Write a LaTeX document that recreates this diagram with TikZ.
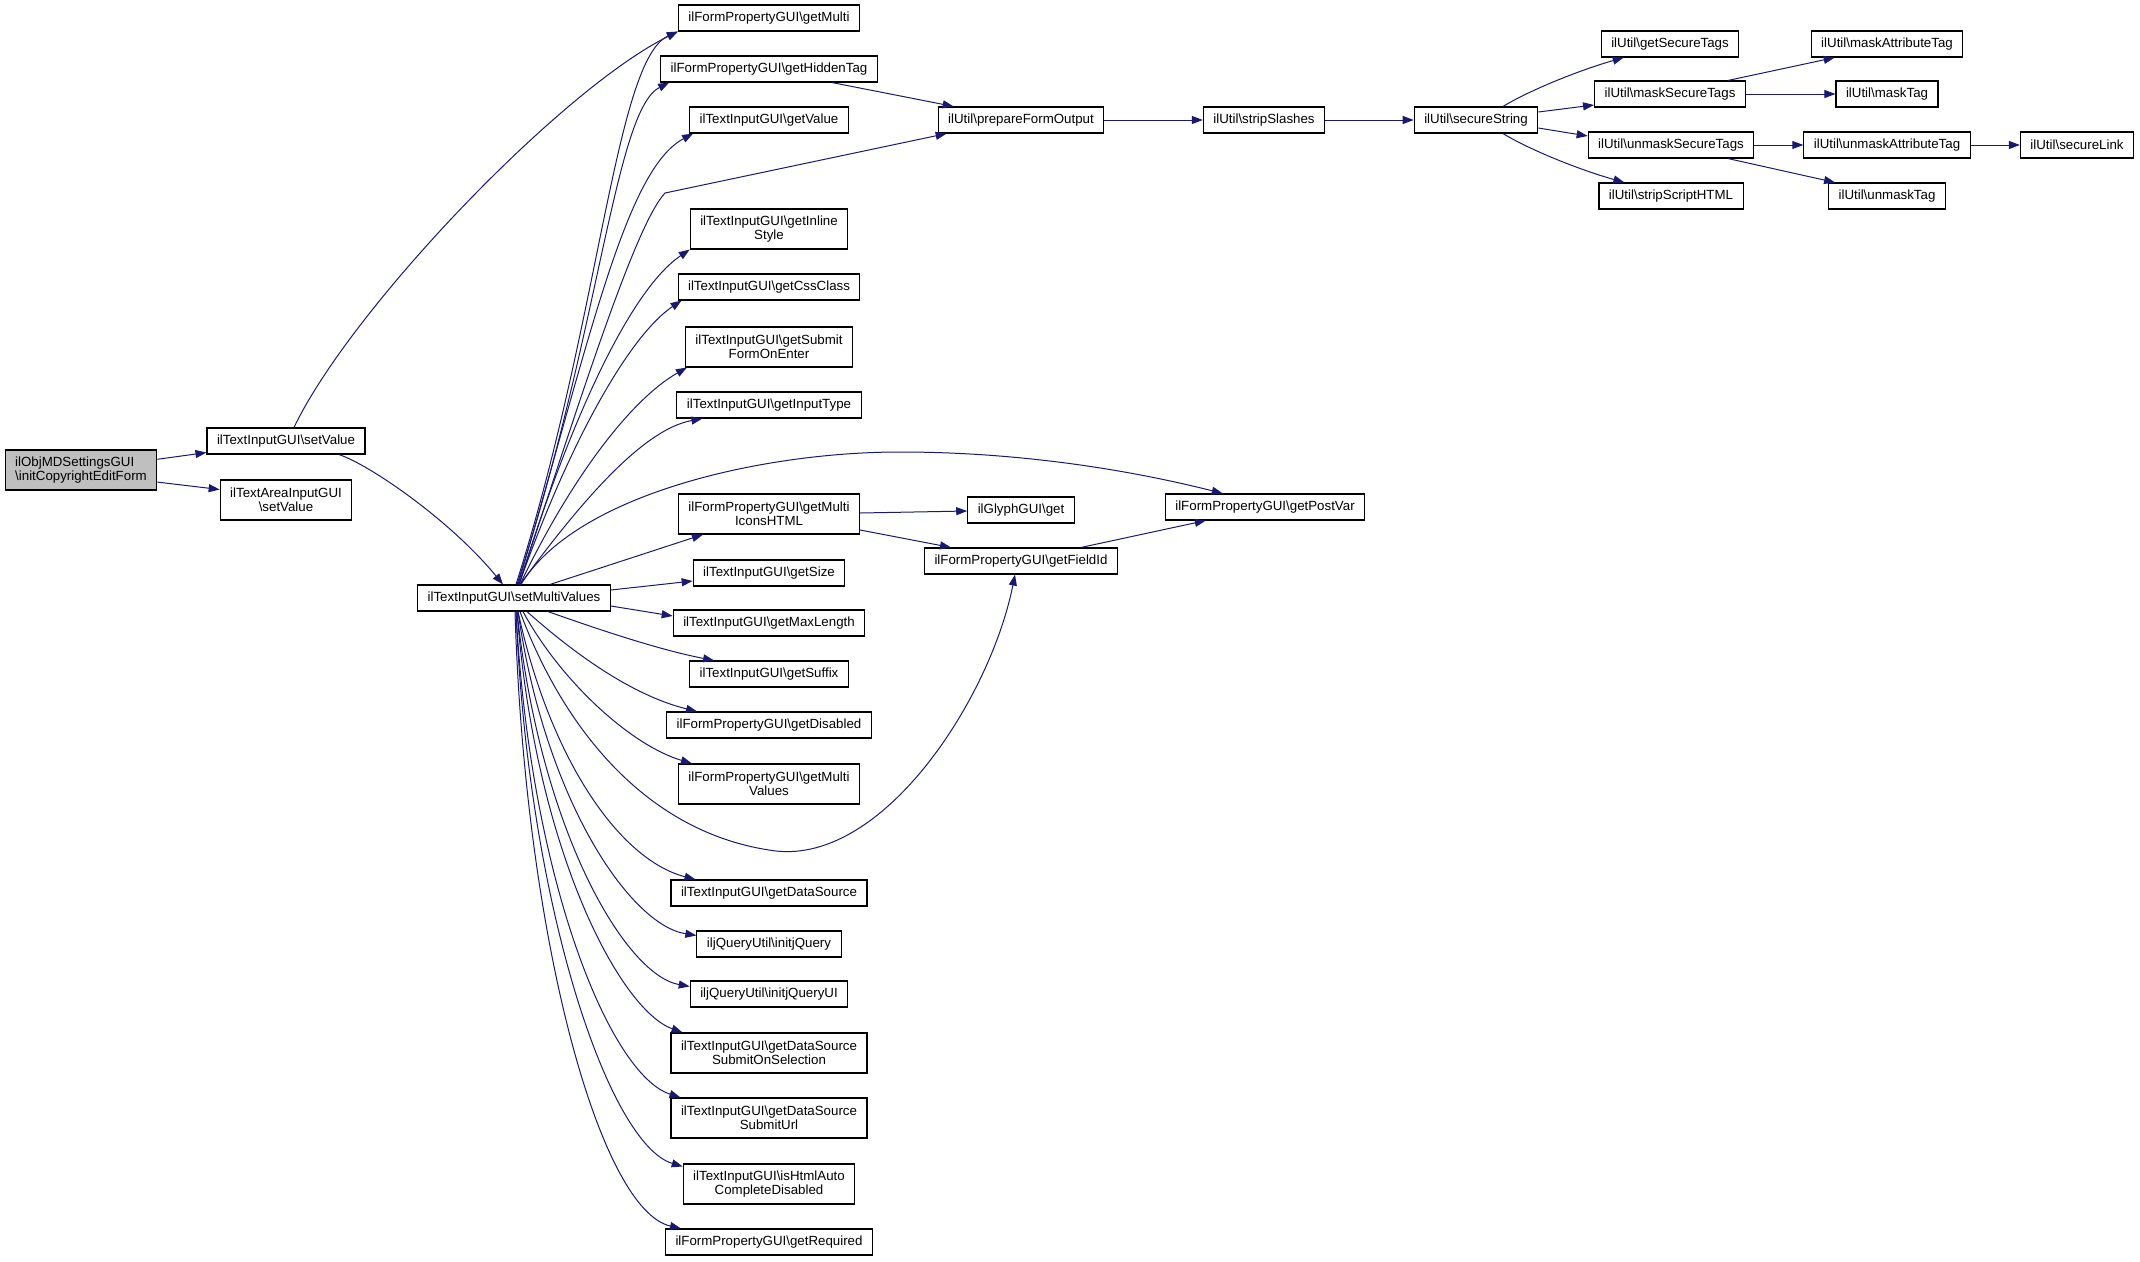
\documentclass[tikz,border=0pt]{standalone}
\usepackage{fontspec}
\setmainfont{Liberation Sans}
\usetikzlibrary{arrows.meta}
\definecolor{callblue}{HTML}{191970}
\newcommand{\bks}{\textbackslash}

\begin{document}
\begin{tikzpicture}[x=1pt, y=-1pt,
  fn/.style={draw=black, line width=1.1pt, fill=white, font=\fontsize{13.3}{13.6}\selectfont,
    align=center, inner xsep=10pt, inner ysep=0pt, minimum height=26pt},
  fn2/.style={fn, minimum height=40pt},
  call/.style={draw=callblue, line width=1pt, -{Triangle[length=11pt,width=8pt]}}]
	\useasboundingbox (0,0) rectangle (2140,1261);
	% callers
	\node[fn2, fill=gray!50, align=left] (root) at (81,470) {ilObjMDSettingsGUI\\\bks initCopyrightEditForm};
	\node[fn] (setval) at (286,441) {ilTextInputGUI\bks setValue};
	\node[fn2] (areaval) at (286,500) {ilTextAreaInputGUI\\\bks setValue};
	\node[fn] (multival) at (514,598) {ilTextInputGUI\bks setMultiValues};
	% column of getters
	\node[fn] (getmulti) at (769,18) {ilFormPropertyGUI\bks getMulti};
	\node[fn] (hidden) at (769,69) {ilFormPropertyGUI\bks getHiddenTag};
	\node[fn] (getval) at (769,120) {ilTextInputGUI\bks getValue};
	\node[fn2] (inline) at (769,229) {ilTextInputGUI\bks getInline\\Style};
	\node[fn] (css) at (769,287) {ilTextInputGUI\bks getCssClass};
	\node[fn2] (submit) at (769,347) {ilTextInputGUI\bks getSubmit\\FormOnEnter};
	\node[fn] (intype) at (769,405) {ilTextInputGUI\bks getInputType};
	\node[fn2] (icons) at (769,514) {ilFormPropertyGUI\bks getMulti\\IconsHTML};
	\node[fn] (size) at (769,573) {ilTextInputGUI\bks getSize};
	\node[fn] (maxlen) at (769,623) {ilTextInputGUI\bks getMaxLength};
	\node[fn] (suffix) at (769,674) {ilTextInputGUI\bks getSuffix};
	\node[fn] (disabled) at (769,725) {ilFormPropertyGUI\bks getDisabled};
	\node[fn2] (multivals) at (769,784) {ilFormPropertyGUI\bks getMulti\\Values};
	\node[fn] (datasrc) at (769,893) {ilTextInputGUI\bks getDataSource};
	\node[fn] (jq) at (769,944) {iljQueryUtil\bks initjQuery};
	\node[fn] (jqui) at (769,994) {iljQueryUtil\bks initjQueryUI};
	\node[fn2] (srcsel) at (769,1053) {ilTextInputGUI\bks getDataSource\\SubmitOnSelection};
	\node[fn2] (srcurl) at (769,1118) {ilTextInputGUI\bks getDataSource\\SubmitUrl};
	\node[fn2] (autocomp) at (769,1184) {ilTextInputGUI\bks isHtmlAuto\\CompleteDisabled};
	\node[fn] (required) at (769,1242) {ilFormPropertyGUI\bks getRequired};
	% ilUtil chain
	\node[fn] (prepare) at (1021,120) {ilUtil\bks prepareFormOutput};
	\node[fn] (strip) at (1264,120) {ilUtil\bks stripSlashes};
	\node[fn] (secure) at (1476,120) {ilUtil\bks secureString};
	\node[fn] (sectags) at (1670,44) {ilUtil\bks getSecureTags};
	\node[fn] (masksec) at (1670,94) {ilUtil\bks maskSecureTags};
	\node[fn] (unmasksec) at (1671,145) {ilUtil\bks unmaskSecureTags};
	\node[fn] (script) at (1671,196) {ilUtil\bks stripScriptHTML};
	\node[fn] (maskattr) at (1887,44) {ilUtil\bks maskAttributeTag};
	\node[fn] (masktag) at (1887,94) {ilUtil\bks maskTag};
	\node[fn] (unmaskattr) at (1887,145) {ilUtil\bks unmaskAttributeTag};
	\node[fn] (unmasktag) at (1887,196) {ilUtil\bks unmaskTag};
	\node[fn] (link) at (2077,145) {ilUtil\bks secureLink};
	\node[fn] (glyph) at (1021,510) {ilGlyphGUI\bks get};
	\node[fn] (fieldid) at (1021,561) {ilFormPropertyGUI\bks getFieldId};
	\node[fn] (postvar) at (1265,507) {ilFormPropertyGUI\bks getPostVar};
	% calls
	\draw[call] (root.8) -- ([yshift=2pt]setval.south west);
	\draw[call] (root.-9) -- (areaval.171);
	\draw[call] ([xshift=8pt]setval.north) .. controls (350,310) and (560,90) .. (getmulti.south west);
	\draw[call] ([xshift=53pt]setval.south) .. controls (370,465) and (450,520) .. ([xshift=-11pt]multival.north);
	\draw[call] ([xshift=2pt]multival.north) .. controls (600,320) and (615,60) .. (getmulti.south west);
	\draw[call] ([xshift=3pt]multival.north) .. controls (600,330) and (615,110) .. ([xshift=9pt]hidden.south west);
	\draw[call] ([xshift=4pt]multival.north) .. controls (590,340) and (625,170) .. ([xshift=4pt]getval.south west);
	\draw[call] ([xshift=5pt]multival.north) .. controls (580,400) and (635,225) .. (665,193) -- ([xshift=9pt]prepare.south west);
	\draw[call] ([xshift=5pt]multival.north) .. controls (570,420) and (630,290) .. (inline.south west);
	\draw[call] ([xshift=5pt]multival.north) .. controls (570,440) and (630,335) .. ([xshift=4pt]css.south west);
	\draw[call] ([xshift=6pt]multival.north) .. controls (570,480) and (630,400) .. ([xshift=2pt]submit.south west);
	\draw[call] ([xshift=6pt]multival.north) .. controls (575,510) and (640,430) .. ([xshift=26pt]intype.south west);
	\draw[call] ([xshift=7pt]multival.north) .. controls (575,495) and (760,452) .. (900,452)
		.. controls (1020,452) and (1130,470) .. ([xshift=58pt]postvar.north west);
	\draw[call] ([xshift=36pt]multival.north) -- ([xshift=25pt]icons.south west);
	\draw[call] ([yshift=8pt]multival.east) -- ([yshift=-8pt]size.west);
	\draw[call] ([yshift=-8pt]multival.east) -- ([yshift=7pt]maxlen.west);
	\draw[call] ([xshift=34pt]multival.south) .. controls (600,630) and (660,650) .. ([xshift=25pt]suffix.north west);
	\draw[call] ([xshift=13pt]multival.south) .. controls (570,650) and (630,695) .. ([xshift=31pt]disabled.north west);
	\draw[call] ([xshift=9pt]multival.south) .. controls (560,680) and (630,745) .. ([xshift=14pt]multivals.north west);
	\draw[call] ([xshift=6pt]multival.south) .. controls (560,720) and (640,830) .. (769,850)
		.. controls (880,870) and (990,700) .. ([xshift=-6pt]fieldid.south);
	\draw[call] ([xshift=4pt]multival.south) .. controls (550,760) and (620,860) .. ([xshift=25pt]datasrc.north west);
	\draw[call] ([xshift=4pt]multival.south) .. controls (545,800) and (630,925) .. ([yshift=-5pt]jq.north west);
	\draw[call] ([xshift=3pt]multival.south) .. controls (540,830) and (625,975) .. ([yshift=-6pt]jqui.north west);
	\draw[call] ([xshift=3pt]multival.south) .. controls (535,850) and (620,1010) .. ([xshift=12pt]srcsel.north west);
	\draw[call] ([xshift=2pt]multival.south) .. controls (530,880) and (610,1075) .. ([xshift=10pt]srcurl.north west);
	\draw[call] ([xshift=2pt]multival.south) .. controls (528,910) and (610,1145) .. ([yshift=-3pt]autocomp.north west);
	\draw[call] ([xshift=1pt]multival.south) .. controls (525,940) and (600,1210) .. ([xshift=16pt]required.north west);
	\draw[call] ([xshift=63pt]hidden.south) -- ([xshift=16pt]prepare.north west);
	\draw[call] (prepare) -- (strip);
	\draw[call] (strip) -- (secure);
	\draw[call] ([xshift=27pt]secure.north) .. controls (1530,90) and (1580,70) .. ([xshift=23pt]sectags.south west);
	\draw[call] ([yshift=8pt]secure.east) -- ([yshift=-11pt]masksec.west);
	\draw[call] ([yshift=-8pt]secure.east) -- ([yshift=9pt]unmasksec.west);
	\draw[call] ([xshift=27pt]secure.south) .. controls (1530,150) and (1580,170) .. ([xshift=26pt]script.north west);
	\draw[call] ([xshift=58pt]masksec.north) -- ([xshift=24pt]maskattr.south west);
	\draw[call] (masksec) -- (masktag);
	\draw[call] (unmasksec) -- (unmaskattr);
	\draw[call] ([xshift=57pt]unmasksec.south) -- ([xshift=7pt]unmasktag.north west);
	\draw[call] (unmaskattr) -- (link);
	\draw[call] ([yshift=1pt]icons.east) -- (glyph);
	\draw[call] ([yshift=-16pt]icons.east) -- ([xshift=27pt]fieldid.north west);
	\draw[call] ([xshift=60pt]fieldid.north) -- ([xshift=41pt]postvar.south west);
\end{tikzpicture}
\end{document}
